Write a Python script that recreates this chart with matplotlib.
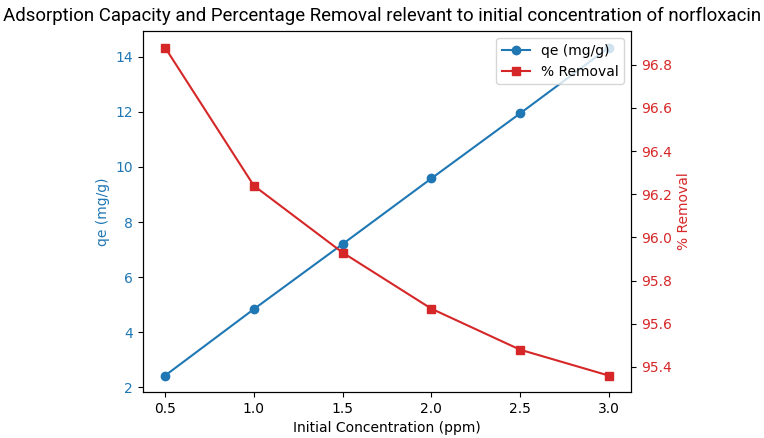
import matplotlib.pyplot as plt

concentration = [0.5, 1.0, 1.5, 2.0, 2.5, 3.0]
qe = [2.43, 4.84, 7.20, 9.58, 11.94, 14.33]
removal = [96.88, 96.24, 95.93, 95.67, 95.48, 95.36]

fig, ax1 = plt.subplots(figsize=(7.64, 4.38), dpi=100)
fig.subplots_adjust(left=0.187, right=0.826, top=0.929, bottom=0.105)

l1, = ax1.plot(concentration, qe, marker='o', color='tab:blue', label='qe (mg/g)')
ax1.set_xlabel('Initial Concentration (ppm)')
ax1.set_ylabel('qe (mg/g)', color='tab:blue')
ax1.tick_params(axis='y', labelcolor='tab:blue')

ax2 = ax1.twinx()
l2, = ax2.plot(concentration, removal, marker='s', color='tab:red', label='% Removal')
ax2.set_ylabel('% Removal', color='tab:red')
ax2.tick_params(axis='y', labelcolor='tab:red')

ax1.legend(handles=[l1, l2], loc='upper right')
fig.suptitle('Adsorption Capacity and Percentage Removal relevant to initial concentration of norfloxacin',
             fontsize=13.4, family='Roboto', x=0.5, y=0.985)

plt.savefig('out.png')
